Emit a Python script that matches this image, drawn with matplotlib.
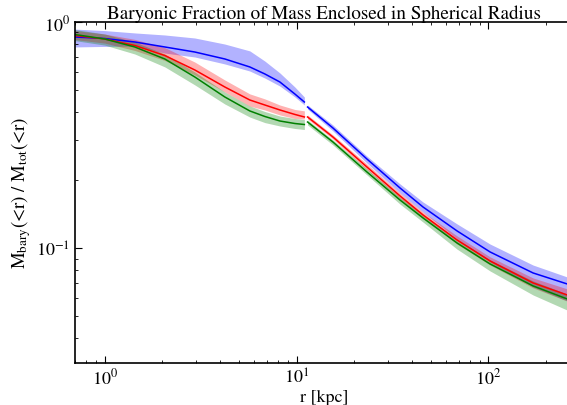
import numpy as np
import matplotlib
matplotlib.use("Agg")
import matplotlib.pyplot as plt

plt.rcParams['font.family'] = ['STIXGeneral', 'DejaVu Serif']
plt.rcParams['mathtext.fontset'] = 'stix'

# ---- data ----
# inner segment (r < ~11 kpc) and outer segment (r > ~11 kpc)
r_in = [0.698, 1.0, 1.434, 2.056, 2.948, 4.227, 5.706, 6.833, 8.183, 9.797, 10.98]
r_out = [11.41, 15.47, 23.26, 34.6, 45.6, 68.6, 102.0, 170.9, 257.0]

# median baryon fractions
blue_in = [0.8584, 0.8454, 0.8160, 0.7756, 0.7368, 0.6864, 0.6328, 0.5893, 0.5431, 0.4806, 0.4430]
red_in = [0.8716, 0.8411, 0.7875, 0.7111, 0.6138, 0.5161, 0.4521, 0.4297, 0.4085, 0.3903, 0.3804]
green_in = [0.8806, 0.8411, 0.7756, 0.6864, 0.5715, 0.4662, 0.4044, 0.3823, 0.3651, 0.3559, 0.3523]

blue_out = [0.4210, 0.3401, 0.2480, 0.1847, 0.1522, 0.1193, 0.0963, 0.07776, 0.06955]
red_out = [0.3804, 0.3103, 0.2287, 0.1703, 0.1404, 0.1088, 0.08787, 0.07026, 0.06217]
green_out = [0.3614, 0.2949, 0.2174, 0.1634, 0.1361, 0.1055, 0.08522, 0.06815, 0.05970]

# scatter bands: widths above / below the median, in dex
blue_in_up = [0.035, 0.035, 0.040, 0.053, 0.062, 0.066, 0.071, 0.057, 0.040, 0.031, 0.022]
blue_in_dn = [0.044, 0.035, 0.018, 0.027, 0.022, 0.022, 0.018, 0.018, 0.018, 0.013, 0.013]
red_in_up = [0.022, 0.022, 0.027, 0.035, 0.035, 0.031, 0.027, 0.027, 0.022, 0.022, 0.027]
red_in_dn = [0.018, 0.018, 0.022, 0.022, 0.022, 0.022, 0.027, 0.022, 0.022, 0.018, 0.009]
green_in_up = [0.022, 0.022, 0.022, 0.022, 0.022, 0.022, 0.022, 0.022, 0.022, 0.022, 0.022]
green_in_dn = [0.027, 0.027, 0.031, 0.035, 0.035, 0.031, 0.027, 0.027, 0.022, 0.022, 0.022]

blue_out_up = [0.009, 0.013, 0.013, 0.018, 0.022, 0.031, 0.035, 0.035, 0.031]
blue_out_dn = [0.009, 0.013, 0.018, 0.022, 0.022, 0.035, 0.044, 0.062, 0.075]
red_out_up = [0.009, 0.009, 0.013, 0.013, 0.013, 0.018, 0.018, 0.022, 0.027]
red_out_dn = [0.009, 0.009, 0.013, 0.013, 0.013, 0.018, 0.018, 0.022, 0.027]
green_out_up = [0.009, 0.009, 0.013, 0.013, 0.013, 0.018, 0.018, 0.022, 0.022]
green_out_dn = [0.013, 0.013, 0.013, 0.018, 0.018, 0.027, 0.031, 0.040, 0.049]

series = [
    ('#0000ff', blue_in, blue_in_up, blue_in_dn, blue_out, blue_out_up, blue_out_dn),
    ('#ff0000', red_in, red_in_up, red_in_dn, red_out, red_out_up, red_out_dn),
    ('#008000', green_in, green_in_up, green_in_dn, green_out, green_out_up, green_out_dn),
]

fig = plt.figure(figsize=(5.67, 4.06), dpi=100)
ax = fig.add_axes([75/567, 1 - 364/406, (573 - 75)/567, (364 - 23)/406])

for c, yi, ui, di, yo, uo, do in series:
    yi, ui, di = np.array(yi), np.array(ui), np.array(di)
    yo, uo, do = np.array(yo), np.array(uo), np.array(do)
    ax.fill_between(r_in, yi / 10**di, yi * 10**ui, color=c, alpha=0.3, lw=0)
    ax.fill_between(r_out, yo / 10**do, yo * 10**uo, color=c, alpha=0.3, lw=0)
for c, yi, ui, di, yo, uo, do in series:
    ax.plot(r_in, yi, color=c, lw=1.1)
    ax.plot(r_out, yo, color=c, lw=1.1)

ax.set_xscale('log')
ax.set_yscale('log')
ax.set_xlim(0.7, 276)
ax.set_ylim(0.0311, 1.0)
ax.tick_params(which='both', direction='in', top=True, right=False, labelsize=13)
ax.tick_params(which='major', length=5)
ax.tick_params(which='minor', length=2.5)
for s in ax.spines.values():
    s.set_linewidth(1.2)

ax.set_title('Baryonic Fraction of Mass Enclosed in Spherical Radius', fontsize=13.8, pad=3)
ax.set_xlabel('r [kpc]', fontsize=13, labelpad=1)
ax.set_ylabel(r'M$_{\rm bary}$(<r) / M$_{\rm tot}$(<r)', fontsize=13.5, labelpad=2)

fig.savefig('out.png', dpi=100)
